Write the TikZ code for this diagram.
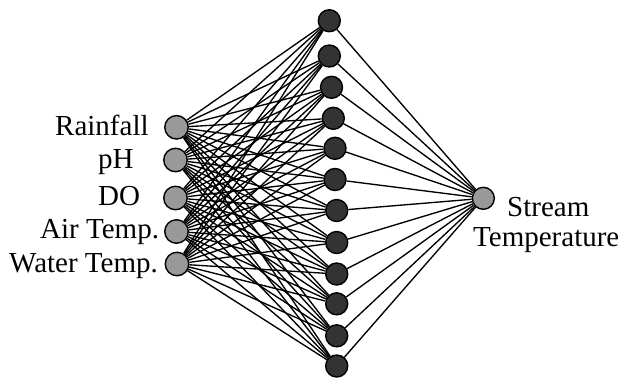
\documentclass[tikz,border=0pt]{standalone}
\usepackage{fontspec}
\setmainfont{Liberation Serif}
\begin{document}
\begin{tikzpicture}[x=1pt,y=-1pt,
  innode/.style={circle,draw=black,line width=1.4pt,fill=black!40,minimum size=23.5pt,inner sep=0pt},
  hidnode/.style={circle,draw=black,line width=1.4pt,fill=black!80,minimum size=22pt,inner sep=0pt},
  outnode/.style={circle,draw=black,line width=1.4pt,fill=black!40,minimum size=22pt,inner sep=0pt},
  lbl/.style={anchor=base west,inner sep=0pt,font=\fontsize{29}{31}\selectfont},
  conn/.style={line width=1.35pt,black}]
\useasboundingbox (0,0) rectangle (618,381);
% input nodes
\node[innode] (i1) at (176.5,127.3) {};
\node[innode] (i2) at (175.5,160) {};
\node[innode] (i3) at (175.5,198) {};
\node[innode] (i4) at (176.5,231.5) {};
\node[innode] (i5) at (177,264) {};
% hidden nodes
\node[hidnode] (h1) at (329.3,20.7) {};
\node[hidnode] (h2) at (329.3,56) {};
\node[hidnode] (h3) at (331.5,87.3) {};
\node[hidnode] (h4) at (333.3,118.3) {};
\node[hidnode] (h5) at (335,148.3) {};
\node[hidnode] (h6) at (335,179.5) {};
\node[hidnode] (h7) at (336.7,210.5) {};
\node[hidnode] (h8) at (336.7,242.5) {};
\node[hidnode] (h9) at (336.7,274) {};
\node[hidnode] (h10) at (336.7,303.8) {};
\node[hidnode] (h11) at (336.7,335.8) {};
\node[hidnode] (h12) at (336.7,366) {};
% output node
\node[outnode] (o) at (483.3,198.3) {};
% connectors
\foreach \i in {1,...,5}{
  \foreach \h in {1,...,12}{
    \draw[conn] (i\i) -- (h\h);
  }
}
\foreach \h in {1,...,12}{
  \draw[conn] (h\h) -- (o);
}
% labels
\node[lbl] (t1) at (55,135) {Rainfall};
\node[lbl] (t2) at (98,168.5) {pH};
\node[lbl] (t3) at (98,205) {DO};
\node[lbl] (t4) at (40,238) {Air Temp.};
\node[lbl] (t5) at (9,272) {Water Temp.};
\node[lbl] (t6) at (507,216) {Stream};
\node[lbl] (t7) at (473,246) {Temperature};
\end{tikzpicture}
\end{document}
